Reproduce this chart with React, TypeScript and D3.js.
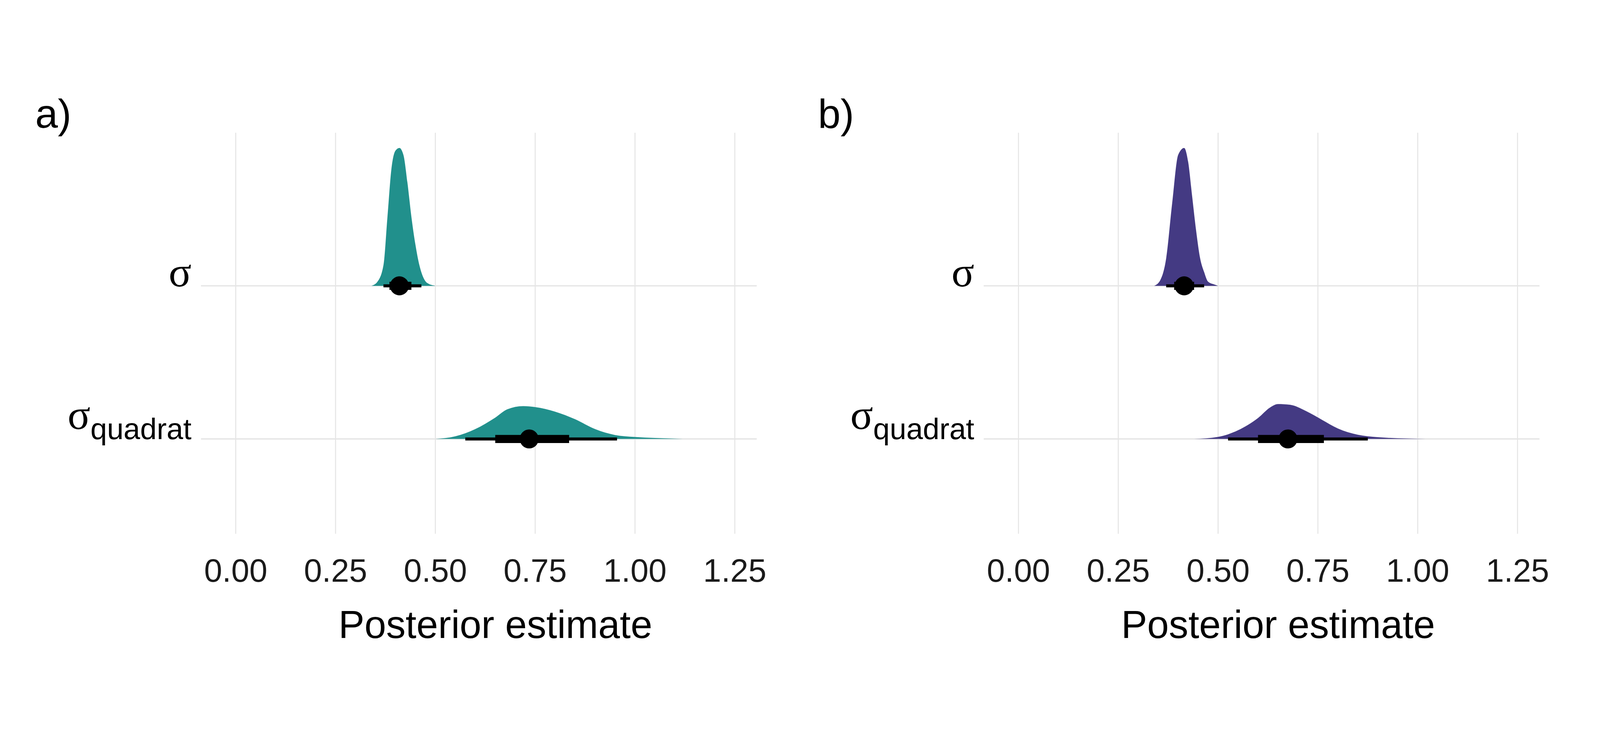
import * as d3 from "d3";

const W = 4724;
const H = 1889;

const ticks = [0, 0.25, 0.5, 0.75, 1.0, 1.25];
const params = ["sigma", "sigma_quadrat"];

// density outlines: [x, relative height]
const aSigma: [number, number][] = [
  [0.34, 0], [0.355, 0.03], [0.37, 0.15], [0.38, 0.5], [0.39, 0.85], [0.4, 0.98], [0.41, 1.0],
  [0.42, 0.95], [0.43, 0.75], [0.44, 0.5], [0.45, 0.3], [0.46, 0.15], [0.47, 0.06], [0.48, 0.02], [0.5, 0],
];
const aQuad: [number, number][] = [
  [0.5, 0], [0.55, 0.08], [0.6, 0.3], [0.65, 0.65], [0.68, 0.9], [0.72, 1.0], [0.75, 0.97], [0.8, 0.83],
  [0.85, 0.6], [0.9, 0.3], [0.95, 0.12], [1.0, 0.06], [1.05, 0.03], [1.12, 0],
];
const bSigma: [number, number][] = [
  [0.34, 0], [0.355, 0.04], [0.37, 0.2], [0.385, 0.6], [0.4, 0.95], [0.415, 1.0], [0.425, 0.9],
  [0.435, 0.65], [0.445, 0.4], [0.455, 0.2], [0.465, 0.1], [0.475, 0.03], [0.49, 0.01], [0.5, 0],
];
const bQuad: [number, number][] = [
  [0.44, 0], [0.5, 0.06], [0.55, 0.25], [0.6, 0.6], [0.63, 0.9], [0.65, 1.0], [0.68, 0.98], [0.72, 0.8],
  [0.76, 0.55], [0.8, 0.3], [0.85, 0.12], [0.9, 0.05], [0.95, 0.02], [1.02, 0],
];
// peak heights in px
const aPeaks = [407, 97];
const bPeaks = [407, 103];
// [median, thick lo, thick hi, thin lo, thin hi]
const aSummary = [[0.41, 0.385, 0.44, 0.37, 0.465], [0.735, 0.65, 0.835, 0.575, 0.955]];
const bSummary = [[0.415, 0.39, 0.44, 0.37, 0.465], [0.675, 0.6, 0.765, 0.525, 0.875]];

const panels = [
  { tag: "a)", x0: 696, color: "#21908C", dens: [aSigma, aQuad], peaks: aPeaks, summ: aSummary },
  { tag: "b)", x0: 3007, color: "#443A83", dens: [bSigma, bQuad], peaks: bPeaks, summ: bSummary },
];

const sans = "'Liberation Sans', Arial, sans-serif";
const serif = "'Liberation Serif', serif";

function Panel({ p }: { p: (typeof panels)[number] }) {
  const unit = 294.7 / 0.25;
  const x = d3.scaleLinear().domain([0, 1.25]).range([p.x0, p.x0 + 1.25 * unit]);
  const y = d3.scalePoint<string>().domain(params).range([699, 1151]);
  const left = x(-0.087);
  const right = x(1.305);
  return (
    <g>
      <text x={p.x0 - 592} y={232} fontFamily={sans} fontSize={120}>{p.tag}</text>
      {ticks.map((t) => (
        <line key={t} x1={x(t)} x2={x(t)} y1={247} y2={1431} stroke="#E5E5E5" strokeWidth={3} />
      ))}
      {params.map((k) => (
        <line key={k} x1={left} x2={right} y1={y(k)} y2={y(k)} stroke="#E5E5E5" strokeWidth={4} />
      ))}
      {params.map((k, i) => {
        const base = y(k)!;
        const area = d3
          .area<[number, number]>()
          .x((d) => x(d[0]))
          .y0(base)
          .y1((d) => base - d[1] * p.peaks[i])
          .curve(d3.curveMonotoneX);
        const s = p.summ[i];
        return (
          <g key={k}>
            <path d={area(p.dens[i]) || ""} fill={p.color} />
            <line x1={x(s[3])} x2={x(s[4])} y1={base} y2={base} stroke="#000" strokeWidth={9} />
            <line x1={x(s[1])} x2={x(s[2])} y1={base} y2={base} stroke="#000" strokeWidth={24} />
            <circle cx={x(s[0])} cy={base} r={28} fill="#000" />
          </g>
        );
      })}
      <text x={left - 28} y={y("sigma")! + 2} textAnchor="end" fontFamily={serif} fontSize={125}>σ</text>
      <text x={left - 28} y={y("sigma_quadrat")! - 30} textAnchor="end" fontFamily={serif} fontSize={125}>
        σ<tspan fontFamily={sans} fontSize={88} dy={30}>quadrat</tspan>
      </text>
      {ticks.map((t) => (
        <text key={t} x={x(t)} y={1572} textAnchor="middle" fontFamily={sans} fontSize={96} fill="#1a1a1a">
          {t.toFixed(2)}
        </text>
      ))}
      <text x={(x(0) + x(1.25)) / 2 + 30} y={1738} textAnchor="middle" fontFamily={sans} fontSize={115}>
        Posterior estimate
      </text>
    </g>
  );
}

export default function App() {
  return (
    <svg
      viewBox={`0 0 ${W} ${H}`}
      preserveAspectRatio="xMidYMid meet"
      style={{ position: "fixed", left: 0, top: 0, width: "100vw", height: "100vh", background: "#fff" }}
    >
      <rect width={W} height={H} fill="#fff" />
      {panels.map((p) => (
        <Panel key={p.tag} p={p} />
      ))}
    </svg>
  );
}
